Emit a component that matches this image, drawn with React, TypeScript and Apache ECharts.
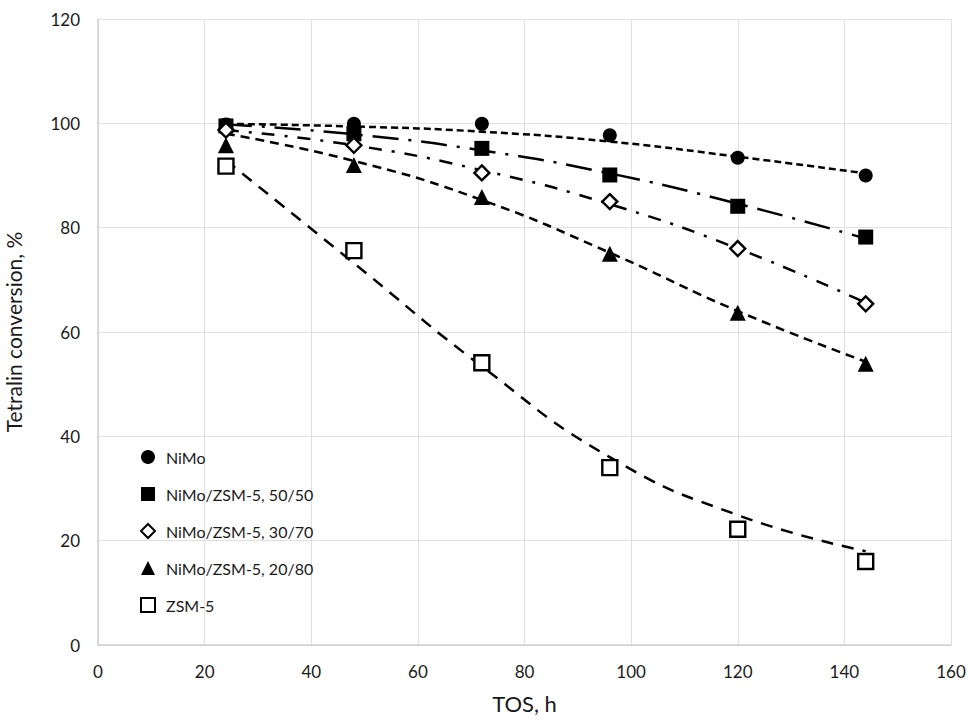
import React, { useEffect, useRef } from "react";
import * as echarts from "echarts";

const tosHours = [24, 48, 72, 96, 120, 144];
const xTicks = [0, 20, 40, 60, 80, 100, 120, 140, 160];
const yTicks = [0, 20, 40, 60, 80, 100, 120];

const seriesNames = [
  "NiMo",
  "NiMo/ZSM-5, 50/50",
  "NiMo/ZSM-5, 30/70",
  "NiMo/ZSM-5, 20/80",
  "ZSM-5",
];

// measured conversions (%)
const nimo = [99.8, 99.9, 99.9, 97.7, 93.4, 90.0];
const nimo5050 = [99.5, 98.0, 95.2, 90.1, 84.1, 78.2];
const nimo3070 = [98.7, 95.8, 90.5, 85.0, 76.0, 65.4];
const nimo2080 = [95.8, 92.0, 85.9, 75.0, 63.7, 53.9];
const zsm5 = [91.8, 75.6, 54.1, 34.0, 22.2, 16.0];

// trend lines (%)
const nimoTrend = [99.9, 99.4, 98.4, 96.5, 93.6, 90.4];
const nimo5050Trend = [99.8, 97.9, 94.8, 90.4, 84.6, 77.9];
const nimo3070Trend = [98.7, 95.8, 91.0, 84.5, 76.0, 65.6];
const nimo2080Trend = [98.0, 92.8, 85.3, 75.2, 64.0, 54.3];
const zsm5Trend = [92.9, 73.2, 53.4, 36.0, 24.9, 18.0];

const FONT = "Lato, 'Open Sans', sans-serif";
const TXT = "#1a1a1a";

const pairs = (ys: number[]) => tosHours.map((x, i) => [x, ys[i]]);

export default function App() {
  const ref = useRef<HTMLDivElement>(null);
  useEffect(() => {
    if (!ref.current) return;
    const chart = echarts.init(ref.current, undefined, { renderer: "svg" });

    const pointData = [nimo, nimo5050, nimo3070, nimo2080, zsm5];
    const trendData = [nimoTrend, nimo5050Trend, nimo3070Trend, nimo2080Trend, zsm5Trend];
    const symbols = ["circle", "rect", "diamond", "triangle", "rect"];
    const symbolSizes = [14, 15, 15, 16, 15];
    const filled = [true, true, false, true, false];
    const dashes = [
      [7, 4],
      [26, 10, 3, 10],
      [13, 10, 3, 10],
      [9, 6],
      [12, 9],
    ];

    const lineSeries = trendData.map((d, i) => ({
      type: "line",
      name: seriesNames[i] + " trend",
      data: pairs(d),
      smooth: true,
      showSymbol: false,
      symbol: "none",
      z: 2,
      silent: true,
      lineStyle: { color: "#000", width: 2.5, type: dashes[i] },
    }));

    const scatterSeries = pointData.map((d, i) => ({
      type: "scatter",
      name: seriesNames[i],
      data: pairs(d),
      symbol: symbols[i],
      symbolSize: symbolSizes[i],
      z: 3,
      itemStyle: filled[i]
        ? { color: "#000", opacity: 1 }
        : { color: "#fff", borderColor: "#000", borderWidth: 2.4, opacity: 1 },
    }));

    chart.setOption({
      animation: false,
      backgroundColor: "#fff",
      grid: {
        left: 98,
        right: 17,
        top: 19,
        bottom: 77,
        containLabel: false,
        outerBoundsMode: "none",
      },
      legend: {
        data: seriesNames,
        orient: "vertical",
        left: 140,
        top: 447,
        padding: 0,
        itemWidth: 14,
        itemHeight: 14,
        itemGap: 17,
        selectedMode: false,
        textStyle: {
          fontFamily: FONT,
          fontSize: 16,
          color: TXT,
          lineHeight: 20,
          padding: [0, 0, 0, 6],
        },
      },
      xAxis: {
        type: "value",
        min: xTicks[0],
        max: xTicks[xTicks.length - 1],
        interval: 20,
        name: "TOS, h",
        nameLocation: "middle",
        nameGap: 47,
        nameTextStyle: { fontFamily: FONT, fontSize: 22, color: TXT },
        axisLine: { show: true, lineStyle: { color: "#d0d0d0", width: 1.5 } },
        axisTick: { show: false },
        axisLabel: { fontFamily: FONT, fontSize: 17, color: TXT, margin: 18 },
        splitLine: { show: true, lineStyle: { color: "#e0e0e0", width: 1 } },
      },
      yAxis: {
        type: "value",
        min: yTicks[0],
        max: yTicks[yTicks.length - 1],
        interval: 20,
        name: "Tetralin conversion, %",
        nameLocation: "middle",
        nameGap: 74,
        nameTextStyle: { fontFamily: FONT, fontSize: 21, color: TXT },
        axisLine: { show: true, lineStyle: { color: "#d0d0d0", width: 1.5 } },
        axisTick: { show: false },
        axisLabel: { fontFamily: FONT, fontSize: 17, color: TXT, margin: 18 },
        splitLine: { show: true, lineStyle: { color: "#e0e0e0", width: 1 } },
      },
      series: [...lineSeries, ...scatterSeries],
    });
    return () => chart.dispose();
  }, []);
  return (
    <div
      ref={ref}
      style={{ position: "fixed", left: 0, top: 0, width: 968, height: 722, background: "#fff" }}
    />
  );
}
